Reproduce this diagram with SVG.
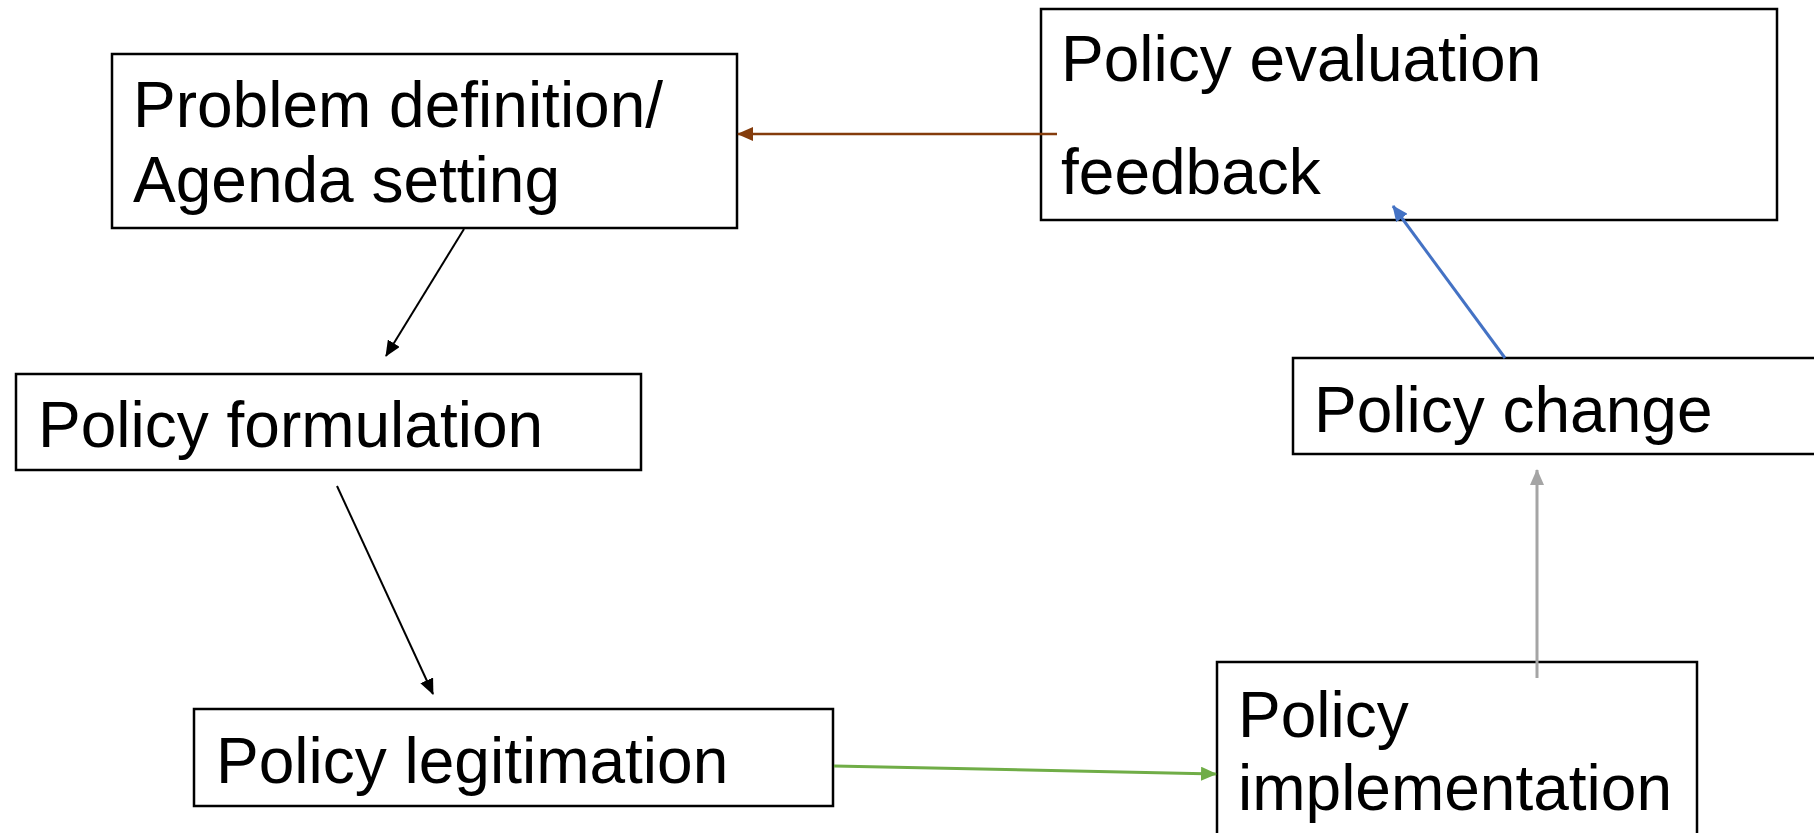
<svg xmlns="http://www.w3.org/2000/svg" width="1814" height="833" viewBox="0 0 1814 833">
<style>
.box{fill:#fff;stroke:#000;stroke-width:2.5}
.t{font-family:"Liberation Sans",Arial,sans-serif;font-size:64px;fill:#000}
.c{fill:none}
</style>
<defs>
<marker id="mk" markerUnits="userSpaceOnUse" markerWidth="16" markerHeight="14" refX="15" refY="7" orient="auto"><path d="M0,0 L16,7 L0,14 Z" fill="#000"/></marker>
<marker id="mbr" markerUnits="userSpaceOnUse" markerWidth="16" markerHeight="14" refX="15" refY="7" orient="auto"><path d="M0,0 L16,7 L0,14 Z" fill="#843C0C"/></marker>
<marker id="mbl" markerUnits="userSpaceOnUse" markerWidth="16" markerHeight="14" refX="15" refY="7" orient="auto"><path d="M0,0 L16,7 L0,14 Z" fill="#4472C4"/></marker>
<marker id="mgr" markerUnits="userSpaceOnUse" markerWidth="16" markerHeight="14" refX="15" refY="7" orient="auto"><path d="M0,0 L16,7 L0,14 Z" fill="#70AD47"/></marker>
<marker id="mgy" markerUnits="userSpaceOnUse" markerWidth="16" markerHeight="14" refX="15" refY="7" orient="auto"><path d="M0,0 L16,7 L0,14 Z" fill="#A5A5A5"/></marker>
</defs>
<g id="n-problem"><rect class="box" x="112" y="54" width="625" height="174"/><text class="t" x="133" y="127">Problem definition/</text><text class="t" x="133" y="202">Agenda setting</text></g>
<g id="n-evaluation"><rect class="box" x="1041" y="9" width="736" height="211"/><text class="t" x="1061" y="81">Policy evaluation</text><text class="t" x="1061" y="194">feedback</text></g>
<g id="n-formulation"><rect class="box" x="16" y="374" width="625" height="96"/><text class="t" x="38" y="447">Policy formulation</text></g>
<g id="n-change"><rect class="box" x="1293" y="358" width="540" height="96"/><text class="t" x="1314" y="432">Policy change</text></g>
<g id="n-legitimation"><rect class="box" x="194" y="709" width="639" height="97"/><text class="t" x="216" y="783">Policy legitimation</text></g>
<g id="n-implementation"><rect class="box" x="1217" y="662" width="480" height="190"/><text class="t" x="1238" y="737">Policy</text><text class="t" x="1238" y="810">implementation</text></g>
<g id="connectors" class="c">
<line x1="1057" y1="134" x2="738" y2="134" stroke="#843C0C" stroke-width="2.5" marker-end="url(#mbr)"/>
<line x1="464" y1="229" x2="386" y2="356" stroke="#000" stroke-width="2" marker-end="url(#mk)"/>
<line x1="337" y1="486" x2="433" y2="694" stroke="#000" stroke-width="2" marker-end="url(#mk)"/>
<line x1="834" y1="766" x2="1216" y2="774" stroke="#70AD47" stroke-width="3" marker-end="url(#mgr)"/>
<line x1="1537" y1="678" x2="1537" y2="470" stroke="#A5A5A5" stroke-width="3" marker-end="url(#mgy)"/>
<line x1="1505" y1="358" x2="1393" y2="206" stroke="#4472C4" stroke-width="3" marker-end="url(#mbl)"/>
</g>
</svg>
